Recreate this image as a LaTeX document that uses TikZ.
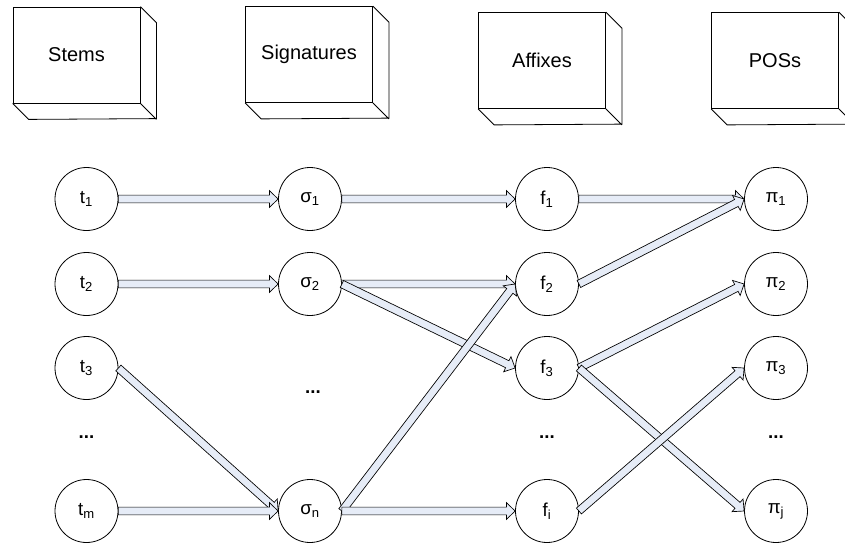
\documentclass[tikz,border=0pt]{standalone}
\usepackage{fontspec}
\setmainfont{Liberation Sans}
\usetikzlibrary{calc}

\definecolor{arrowfill}{HTML}{E6ECF7}

\tikzset{
  store/.style={draw, line width=0.6pt, fill=white, inner sep=0pt,
    minimum width=95.25pt, minimum height=72pt,
    font=\fontsize{15}{18}\selectfont},
  edge3d/.style={line width=0.6pt, line join=miter},
  state/.style={circle, draw, line width=0.6pt, fill=white, inner sep=0pt,
    minimum size=47.25pt, font=\fontsize{14}{17}\selectfont},
  gap/.style={inner sep=0pt, font=\fontsize{14}{17}\selectfont\bfseries},
  flow/.style={draw=black, line width=0.5pt, fill=arrowfill, line join=miter}
}

% half width of the shaft, half width of the head, length of the head
\def\shaftw{2.9pt}
\def\headw{6.3pt}
\def\headl{6.5pt}

% a cube-like store: front face as a node, top-right and bottom faces drawn beside it
\newcommand\storebox[4]{%
  \node[store] (#1) at (#2,#3) {#4};
  \draw[edge3d] (#1.north east) -- ++(12pt,-12pt) -- ++(0pt,-72pt)
    -- ($(#1.south west)+(12pt,-12pt)$) -- (#1.south west)
    (#1.south east) -- ++(12pt,-12pt);
}

% hollow block arrow from the east side of #1 to the west side of #2
\newcommand\flowarrow[2]{%
  \draw[flow] let \p1=(#1.east), \p2=(#2.west),
      \p3=($(\p2)!\headl!(\p1)$) in
    ($(\p1)!\shaftw!90:(\p2)$) --
    ($(\p3)!\shaftw!-90:(\p1)$) --
    ($(\p3)!\headw!-90:(\p1)$) --
    (\p2) --
    ($(\p3)!\headw!90:(\p1)$) --
    ($(\p3)!\shaftw!90:(\p1)$) --
    ($(\p1)!\shaftw!-90:(\p2)$) -- cycle;}

\begin{document}
\begin{tikzpicture}[x=0.75pt, y=-0.75pt]
  \useasboundingbox (0,0) rectangle (845,543);
  \clip (0,0) rectangle (845,543);

  % stores
  \storebox{stems}{76.5}{55}{Stems}
  \storebox{sigs}{309}{54.5}{Signatures}
  \storebox{affixes}{542}{60.5}{Affixes}
  \storebox{poss}{775}{60.5}{POSs}

  % stems
  \node[state] (t1) at (86.5,199) {t\textsubscript{1}};
  \node[state] (t2) at (86.5,284) {t\textsubscript{2}};
  \node[state] (t3) at (86.5,368) {t\textsubscript{3}};
  \node[gap]   (td) at (86.5,437) {...};
  \node[state] (tm) at (86.5,511) {t\textsubscript{m}};

  % signatures
  \node[state] (s1) at (310,199) {σ\textsubscript{1}};
  \node[state] (s2) at (310,284) {σ\textsubscript{2}};
  \node[gap]   (sd) at (313,392) {...};
  \node[state] (sn) at (310,511) {σ\textsubscript{n}};

  % affixes
  \node[state] (f1) at (547,199) {f\textsubscript{1}};
  \node[state] (f2) at (547,284) {f\textsubscript{2}};
  \node[state] (f3) at (547,368) {f\textsubscript{3}};
  \node[gap]   (fd) at (547,437) {...};
  \node[state] (fi) at (547,511) {f\textsubscript{i}};

  % parts of speech
  \node[state] (p1) at (776,199) {π\textsubscript{1}};
  \node[state] (p2) at (776,284) {π\textsubscript{2}};
  \node[state] (p3) at (776,368) {π\textsubscript{3}};
  \node[gap]   (pd) at (776,437) {...};
  \node[state] (pj) at (776,511) {π\textsubscript{j}};

  % stems to signatures
  \flowarrow{t1}{s1}
  \flowarrow{t2}{s2}
  \flowarrow{t3}{sn}
  \flowarrow{tm}{sn}

  % signatures to affixes
  \flowarrow{s1}{f1}
  \flowarrow{s2}{f2}
  \flowarrow{s2}{f3}
  \flowarrow{sn}{f2}
  \flowarrow{sn}{fi}

  % affixes to parts of speech
  \flowarrow{f1}{p1}
  \flowarrow{f2}{p1}
  \flowarrow{f3}{p2}
  \flowarrow{f3}{pj}
  \flowarrow{fi}{p3}
\end{tikzpicture}
\end{document}
